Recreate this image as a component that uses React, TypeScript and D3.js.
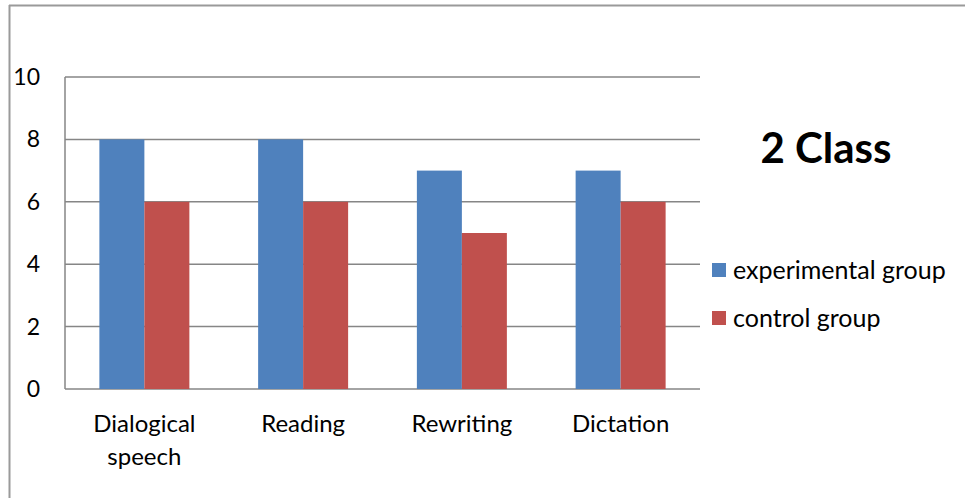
import React, { useEffect, useRef } from 'react';
import * as d3 from 'd3';

const categories = [['Dialogical', 'speech'], ['Reading'], ['Rewriting'], ['Dictation']];
const seriesNames = ['experimental group', 'control group'];
const experimental = [8, 8, 7, 7];
const control = [6, 6, 5, 6];
const yTicks = [0, 2, 4, 6, 8, 10];
const title = '2 Class';

const colors = ['#4F81BD', '#C0504D'];
const FONT = 'Lato, "Open Sans", sans-serif';

const App = () => {
  const ref = useRef<SVGSVGElement>(null);

  useEffect(() => {
    const svg = d3.select(ref.current);
    svg.selectAll('*').remove();

    const left = 65, right = 700, top = 77, bottom = 389;
    const keys = categories.map((c) => c.join(' '));
    const x = d3.scaleBand().domain(keys).range([left, right]).padding(0);
    const x1 = d3.scaleBand().domain(seriesNames).range([0, x.bandwidth()]).paddingInner(0).paddingOuter(0.764);
    const y = d3.scaleLinear().domain([0, 10]).range([bottom, top]);

    // outer frame (only top and left visible)
    svg.append('line').attr('x1', 9).attr('x2', 965).attr('y1', 5.5).attr('y2', 5.5)
      .attr('stroke', '#9a9a9a').attr('stroke-width', 2);
    svg.append('line').attr('x1', 9.5).attr('x2', 9.5).attr('y1', 5).attr('y2', 498)
      .attr('stroke', '#9a9a9a').attr('stroke-width', 2);

    // gridlines
    svg.append('g').selectAll('line').data(yTicks).enter().append('line')
      .attr('x1', left).attr('x2', right)
      .attr('y1', (d) => y(d)).attr('y2', (d) => y(d))
      .attr('stroke', '#868686').attr('stroke-width', 1.5);

    // y axis line
    svg.append('line').attr('x1', left).attr('x2', left).attr('y1', top).attr('y2', bottom)
      .attr('stroke', '#868686').attr('stroke-width', 1.5);

    // y tick labels
    svg.append('g').selectAll('text').data(yTicks).enter().append('text')
      .attr('x', 40).attr('y', (d) => y(d)).attr('dy', '0.35em')
      .attr('text-anchor', 'end').attr('font-family', FONT).attr('font-size', 23)
      .attr('fill', '#000').text((d) => d);

    // bars
    const seriesData = [experimental, control];
    seriesData.forEach((vals, si) => {
      svg.append('g').selectAll('rect').data(vals).enter().append('rect')
        .attr('x', (d, i) => (x(keys[i]) || 0) + (x1(seriesNames[si]) || 0))
        .attr('width', x1.bandwidth())
        .attr('y', (d) => y(d))
        .attr('height', (d) => y(0) - y(d))
        .attr('fill', colors[si]);
    });

    // category labels
    categories.forEach((lines, i) => {
      const cx = (x(keys[i]) || 0) + x.bandwidth() / 2;
      const t = svg.append('text').attr('text-anchor', 'middle').attr('font-family', FONT)
        .attr('font-size', 24).attr('fill', '#000');
      lines.forEach((ln, j) => {
        t.append('tspan').attr('x', cx).attr('y', 432 + j * 33).text(ln);
      });
    });

    // title
    svg.append('text').attr('x', 826).attr('y', 163).attr('text-anchor', 'middle')
      .attr('font-family', FONT).attr('font-size', 42).attr('font-weight', 'bold')
      .attr('fill', '#000').text(title);

    // legend
    seriesNames.forEach((name, i) => {
      const ly = 270 + i * 48;
      svg.append('rect').attr('x', 712).attr('y', ly - 7).attr('width', 14).attr('height', 14)
        .attr('fill', colors[i]);
      svg.append('text').attr('x', 733).attr('y', ly).attr('dy', '0.35em')
        .attr('font-family', FONT).attr('font-size', 25).attr('fill', '#000').text(name);
    });
  }, []);

  return (
    <svg ref={ref} width={965} height={498}
      style={{ position: 'absolute', left: 0, top: 0, background: '#fff' }} />
  );
};

export default App;
